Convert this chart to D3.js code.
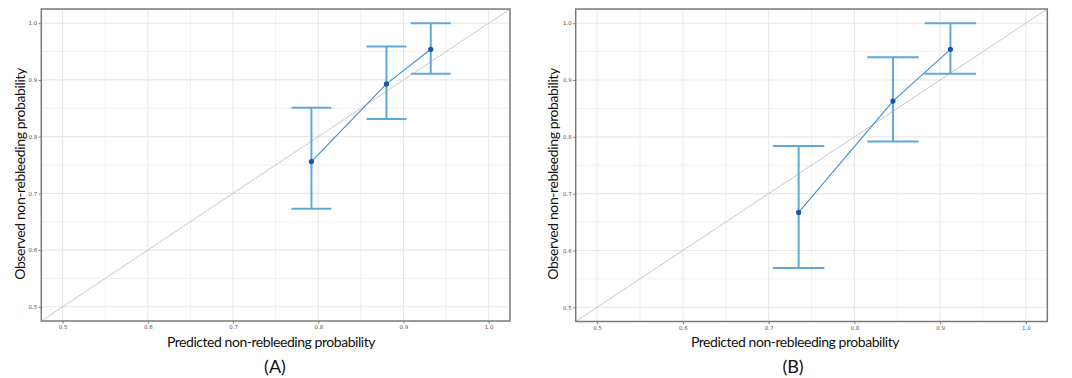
<!DOCTYPE html>
<html>
<head>
<meta charset="utf-8">
<script src="https://cdn.jsdelivr.net/npm/d3@7"></script>
<style>
  html, body { margin: 0; padding: 0; background: #fff; }
  svg { display: block; }
</style>
</head>
<body>
<svg id="chart" width="1072" height="378"></svg>
<script>
// ---- data ----
const tickValues = [0.5, 0.6, 0.7, 0.8, 0.9, 1.0];
const tickLabels = ["0.5", "0.6", "0.7", "0.8", "0.9", "1.0"];
const minorTicks = [0.55, 0.65, 0.75, 0.85, 0.95];
const axisDomain = [0.475, 1.025];

const predictedA = [0.792, 0.880, 0.932];
const observedA  = [0.756, 0.893, 0.954];
const lowerA     = [0.673, 0.831, 0.911];
const upperA     = [0.851, 0.959, 1.000];

const predictedB = [0.735, 0.845, 0.912];
const observedB  = [0.667, 0.863, 0.954];
const lowerB     = [0.569, 0.792, 0.911];
const upperB     = [0.784, 0.940, 1.000];

const xTitle = "Predicted non-rebleeding probability";
const yTitle = "Observed non-rebleeding probability";
const panelLabels = ["(A)", "(B)"];

// ---- layout ----
const panels = [
  { pred: predictedA, obs: observedA, lo: lowerA, hi: upperA, label: panelLabels[0],
    left: 41.3, right: 510, top: 9, bottom: 321, capHalf: 0.0234,
    yTitleX: 24.5, yTitleY: 174, xTitleX: 271, labelX: 275 },
  { pred: predictedB, obs: observedB, lo: lowerB, hi: upperB, label: panelLabels[1],
    left: 575.7, right: 1047.3, top: 9, bottom: 321.5, capHalf: 0.030,
    yTitleX: 558, yTitleY: 174, xTitleX: 795, labelX: 793 }
];

const svg = d3.select("#chart");
const font = "Lato, 'Open Sans', sans-serif";

panels.forEach((p, i) => {
  const x = d3.scaleLinear().domain(axisDomain).range([p.left, p.right]);
  const y = d3.scaleLinear().domain(axisDomain).range([p.bottom, p.top]);
  const g = svg.append("g");

  const clipId = "clip" + i;
  svg.append("defs").append("clipPath").attr("id", clipId)
    .append("rect").attr("x", p.left).attr("y", p.top)
    .attr("width", p.right - p.left).attr("height", p.bottom - p.top);

  // minor grid
  g.selectAll(".mx").data(minorTicks).join("line")
    .attr("x1", d => x(d)).attr("x2", d => x(d)).attr("y1", p.top).attr("y2", p.bottom)
    .attr("stroke", "#f0f0f0").attr("stroke-width", 1);
  g.selectAll(".my").data(minorTicks).join("line")
    .attr("y1", d => y(d)).attr("y2", d => y(d)).attr("x1", p.left).attr("x2", p.right)
    .attr("stroke", "#f0f0f0").attr("stroke-width", 1);
  // major grid
  g.selectAll(".Mx").data(tickValues).join("line")
    .attr("x1", d => x(d)).attr("x2", d => x(d)).attr("y1", p.top).attr("y2", p.bottom)
    .attr("stroke", "#e8e8e8").attr("stroke-width", 1.1);
  g.selectAll(".My").data(tickValues).join("line")
    .attr("y1", d => y(d)).attr("y2", d => y(d)).attr("x1", p.left).attr("x2", p.right)
    .attr("stroke", "#e8e8e8").attr("stroke-width", 1.1);

  // diagonal reference
  g.append("line").attr("clip-path", `url(#${clipId})`)
    .attr("x1", x(axisDomain[0])).attr("y1", y(axisDomain[0]))
    .attr("x2", x(axisDomain[1])).attr("y2", y(axisDomain[1]))
    .attr("stroke", "#c6c6c6").attr("stroke-width", 1);

  const idx = d3.range(p.pred.length);
  // error bars
  g.selectAll(".ev").data(idx).join("line")
    .attr("x1", k => x(p.pred[k])).attr("x2", k => x(p.pred[k]))
    .attr("y1", k => y(p.lo[k])).attr("y2", k => y(p.hi[k]))
    .attr("stroke", "#5fa8da").attr("stroke-width", 2);
  g.selectAll(".et").data(idx).join("line")
    .attr("x1", k => x(p.pred[k] - p.capHalf)).attr("x2", k => x(p.pred[k] + p.capHalf))
    .attr("y1", k => y(p.hi[k])).attr("y2", k => y(p.hi[k]))
    .attr("stroke", "#5fa8da").attr("stroke-width", 2);
  g.selectAll(".eb").data(idx).join("line")
    .attr("x1", k => x(p.pred[k] - p.capHalf)).attr("x2", k => x(p.pred[k] + p.capHalf))
    .attr("y1", k => y(p.lo[k])).attr("y2", k => y(p.lo[k]))
    .attr("stroke", "#5fa8da").attr("stroke-width", 2);

  // connecting line
  g.append("path").datum(idx)
    .attr("d", d3.line().x(k => x(p.pred[k])).y(k => y(p.obs[k])))
    .attr("fill", "none").attr("stroke", "#3d8fd5").attr("stroke-width", 1.1);
  // points
  g.selectAll(".pt").data(idx).join("circle")
    .attr("cx", k => x(p.pred[k])).attr("cy", k => y(p.obs[k])).attr("r", 2.6)
    .attr("fill", "#1753b0");

  // axes
  const xAxis = d3.axisBottom(x).tickValues(tickValues)
    .tickFormat((d, j) => tickLabels[j]).tickSize(2.5).tickPadding(2);
  const yAxis = d3.axisLeft(y).tickValues(tickValues)
    .tickFormat((d, j) => tickLabels[j]).tickSize(2.5).tickPadding(1.5);
  const gx = g.append("g").attr("transform", `translate(0,${p.bottom})`).call(xAxis);
  const gy = g.append("g").attr("transform", `translate(${p.left},0)`).call(yAxis);
  [gx, gy].forEach(a => {
    a.select(".domain").remove();
    a.selectAll(".tick line").attr("stroke", "#555").attr("stroke-width", 0.8);
    a.selectAll(".tick text").attr("fill", "#555").attr("font-size", 5.5)
      .attr("font-family", "'DejaVu Sans', sans-serif");
  });

  // panel border
  g.append("rect").attr("x", p.left).attr("y", p.top)
    .attr("width", p.right - p.left).attr("height", p.bottom - p.top)
    .attr("fill", "none").attr("stroke", "#7a7a7a").attr("stroke-width", 1.5);

  // titles
  g.append("text").attr("x", p.xTitleX).attr("y", 347)
    .attr("text-anchor", "middle").attr("font-family", font).attr("font-size", 14)
    .attr("letter-spacing", "-0.45px")
    .attr("fill", "#111").text(xTitle);
  g.append("text").attr("transform", `translate(${p.yTitleX},${p.yTitleY}) rotate(-90)`)
    .attr("text-anchor", "middle").attr("font-family", font).attr("font-size", 14)
    .attr("letter-spacing", "-0.4px")
    .attr("fill", "#111").text(yTitle);
  g.append("text").attr("x", p.labelX).attr("y", 373)
    .attr("text-anchor", "middle").attr("font-family", font).attr("font-size", 18)
    .attr("fill", "#111").text(p.label);
});
</script>
</body>
</html>
